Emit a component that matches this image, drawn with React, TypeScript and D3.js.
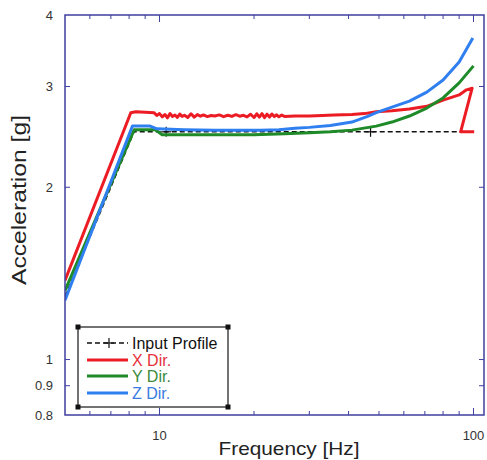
import React from "react";
import * as d3 from "d3";

// ---- data ----
const xFreq = [5, 8.1, 8.4, 9.0, 9.6,
  9.8, 10.0, 10.2, 10.4, 10.6, 10.8, 11.0, 11.2, 11.4, 11.6, 11.8, 12.0, 12.3, 12.6, 12.9, 13.2, 13.5, 13.8, 14.2, 14.6,
  15.0, 15.5, 16.0, 16.5, 17.0, 17.5, 18.0, 18.5, 19.0, 19.5, 20.0, 20.4, 20.8, 21.2, 21.6, 22.0, 22.4, 22.8, 23.2, 23.6,
  24.0, 24.5, 25, 27, 30, 33, 36, 41, 45, 49, 55, 62.5, 71, 80, 90, 95, 99, 91, 100.5];
const xVal = [1.375, 2.70, 2.71, 2.705, 2.70,
  2.67, 2.69, 2.655, 2.68, 2.645, 2.69, 2.66, 2.675, 2.65, 2.685, 2.66, 2.672, 2.648, 2.688, 2.652, 2.68, 2.662, 2.676, 2.658, 2.67,
  2.664, 2.676, 2.657, 2.672, 2.66, 2.678, 2.662, 2.672, 2.655, 2.683, 2.648, 2.688, 2.652, 2.69, 2.647, 2.684, 2.653, 2.686, 2.658, 2.677,
  2.656, 2.674, 2.66, 2.665, 2.665, 2.67, 2.675, 2.68, 2.69, 2.71, 2.72, 2.74, 2.77, 2.84, 2.90, 2.96, 2.98, 2.5, 2.5];

const yFreq = [5, 8.3, 9.0, 9.7, 10.2, 12, 15, 20, 25, 30, 35, 41, 49, 55, 62.5, 71, 80, 90, 100];
const yVal = [1.32, 2.52, 2.52, 2.52, 2.47, 2.47, 2.47, 2.47, 2.48, 2.49, 2.50, 2.517, 2.558, 2.60, 2.664, 2.751, 2.865, 3.044, 3.26];

const zFreq = [5, 8.2, 9.3, 9.8, 12, 15, 18, 21, 24, 27, 30, 35, 41, 46, 49, 55, 62.5, 71, 80, 90, 99.5];
const zVal = [1.27, 2.56, 2.56, 2.53, 2.52, 2.515, 2.515, 2.515, 2.52, 2.535, 2.545, 2.565, 2.60, 2.66, 2.70, 2.762, 2.829, 2.933, 3.08, 3.311, 3.646];

const inFreq = [5, 8.3, 10.5, 47, 100];
const inVal = [1.29, 2.5, 2.5, 2.5, 2.5];
const inMarkers = [10.5, 47];

const xTicks = [6, 7, 8, 9, 10, 20, 30, 40, 50, 60, 70, 80, 90, 100];
const xMajor = [10, 100];
const yTicks = [0.9, 1, 2, 3];
const yLabels = [0.8, 0.9, 1, 2, 3, 4];

const legendNames = ["Input Profile", "X Dir.", "Y Dir.", "Z Dir."];

// ---- styles ----
const RED = "#ec1c24";
const GREEN = "#1e8a28";
const BLUE = "#2f7ff0";
const FRAME = "#3f3fa0";
const FONT = "Liberation Sans, Arial, sans-serif";

export default function App() {
  const L = 65, R = 484, T = 15, B = 415;
  const x = d3.scaleLog().domain([5, 108]).range([L, R]);
  const y = d3.scaleLog().domain([0.8, 4]).range([B, T]);

  const mk = (f: number[], v: number[]) =>
    d3.line<number>().x((_, i) => x(f[i])).y((_, i) => y(v[i]))(f) || "";

  const series = [
    { f: xFreq, v: xVal, c: RED },
    { f: yFreq, v: yVal, c: GREEN },
    { f: zFreq, v: zVal, c: BLUE },
  ];

  const legendColors = ["#111", RED, GREEN, BLUE];
  const legendTextColors = ["#111", "#e5323a", "#3a8a3a", "#3b7be0"];
  const lgX0 = 78, lgY0 = 327, lgX1 = 228, lgY1 = 407;
  const rowY = [343, 360, 376, 393];

  return (
    <svg width={487} height={460} style={{ position: "absolute", left: 0, top: 0, background: "#fff" }} fontFamily={FONT}>
      <rect x={0} y={0} width={487} height={460} fill="#fff" />
      <defs>
        <clipPath id="plot">
          <rect x={L} y={T} width={R - L} height={B - T} />
        </clipPath>
      </defs>

      {/* series */}
      <g clipPath="url(#plot)">
        <path d={mk(inFreq, inVal)} fill="none" stroke="#111" strokeWidth={1.5} strokeDasharray="5,3" />
        {inMarkers.map((f, i) => (
          <g key={i} stroke="#111" strokeWidth={1.2}>
            <line x1={x(f) - 5} x2={x(f) + 5} y1={y(2.5)} y2={y(2.5)} />
            <line x1={x(f)} x2={x(f)} y1={y(2.5) - 5} y2={y(2.5) + 5} />
          </g>
        ))}
        {series.map((s, i) => (
          <path key={i} d={mk(s.f, s.v)} fill="none" stroke={s.c} strokeWidth={3} strokeLinejoin="round" />
        ))}
      </g>

      {/* frame */}
      <rect x={L} y={T} width={R - L} height={B - T} fill="none" stroke={FRAME} strokeWidth={1.5} />

      {/* x ticks */}
      {xTicks.map((t) => {
        const len = xMajor.includes(t) ? 7 : 4;
        return (
          <g key={t} stroke={FRAME} strokeWidth={1}>
            <line x1={x(t)} x2={x(t)} y1={B} y2={B - len} />
            <line x1={x(t)} x2={x(t)} y1={T} y2={T + len} />
          </g>
        );
      })}
      {xMajor.map((t) => (
        <text key={t} x={x(t)} y={440} textAnchor="middle" fontSize={13} fill="#333">
          {t}
        </text>
      ))}

      {/* y ticks */}
      {yTicks.map((t) => (
        <g key={t} stroke={FRAME} strokeWidth={1}>
          <line x1={L} x2={L + 5} y1={y(t)} y2={y(t)} />
          <line x1={R} x2={R - 5} y1={y(t)} y2={y(t)} />
        </g>
      ))}
      {yLabels.map((t) => (
        <text key={t} x={53} y={y(t)} dy="0.35em" textAnchor="end" fontSize={13} fill="#333">
          {t}
        </text>
      ))}

      {/* axis titles */}
      <text
        transform="translate(26,200) rotate(-90)"
        textAnchor="middle"
        fontSize={20}
        textLength={170}
        lengthAdjust="spacingAndGlyphs"
        fill="#222"
      >
        Acceleration [g]
      </text>
      <text x={289} y={455} textAnchor="middle" fontSize={19} textLength={141} lengthAdjust="spacingAndGlyphs" fill="#222">
        Frequency [Hz]
      </text>

      {/* legend */}
      <rect x={lgX0} y={lgY0} width={lgX1 - lgX0} height={lgY1 - lgY0} fill="#fff" stroke="#444" strokeWidth={1.5} />
      {[[lgX0, lgY0], [lgX1, lgY0], [lgX0, lgY1], [lgX1, lgY1]].map(([cx, cy], i) => (
        <rect key={i} x={cx - 2.5} y={cy - 2.5} width={5} height={5} fill="#111" />
      ))}
      {legendNames.map((name, i) => (
        <g key={name}>
          {i === 0 ? (
            <g>
              <line x1={87} x2={128} y1={rowY[i]} y2={rowY[i]} stroke="#111" strokeWidth={1.5} strokeDasharray="5,3" />
              <line x1={104} x2={114} y1={rowY[i]} y2={rowY[i]} stroke="#111" strokeWidth={1.2} />
              <line x1={109} x2={109} y1={rowY[i] - 5} y2={rowY[i] + 5} stroke="#111" strokeWidth={1.2} />
            </g>
          ) : (
            <line x1={87} x2={128} y1={rowY[i]} y2={rowY[i]} stroke={legendColors[i]} strokeWidth={3} />
          )}
          <text x={132} y={rowY[i]} dy="0.36em" fontSize={16} fill={legendTextColors[i]}>
            {name}
          </text>
        </g>
      ))}
    </svg>
  );
}
